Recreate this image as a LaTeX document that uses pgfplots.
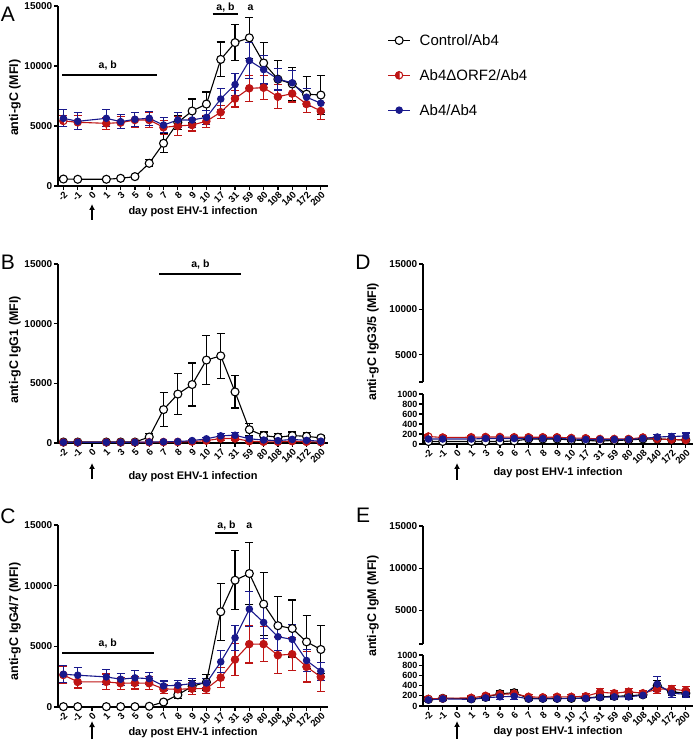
\documentclass[border=0pt]{standalone}
\usepackage{fontspec}
\setmainfont{Liberation Sans}
\usepackage{pgfplots}
\pgfplotsset{compat=1.18}
\usepackage{pgfplotstable}
\usetikzlibrary{arrows.meta}
\definecolor{cred}{RGB}{190,20,20}
\definecolor{cblue}{RGB}{25,25,140}

\pgfdeclareplotmark{lefthalf}{%
  \pgfpathcircle{\pgfpointorigin}{\pgfplotmarksize}%
  \pgfusepathqfillstroke
  \pgfpathmoveto{\pgfqpoint{0pt}{\pgfplotmarksize}}%
  \pgfpatharc{90}{270}{\pgfplotmarksize}%
  \pgfpathclose
  \pgfsetfillcolor{cred}%
  \pgfusepathqfillstroke
}

% ---------- data: x = category index (-2,-1,0,1,3,5,6,7,8,9,10,17,31,59,80,108,140,172,200 -> 0..18) ----------
\pgfplotstableread{
x y e
0 580 100
1 560 100
3 560 100
4 640 100
5 780 100
6 1890 300
7 3560 800
8 5300 600
9 6250 1000
10 6830 1000
11 10550 1450
12 11950 1500
13 12350 1700
14 10250 1700
15 8900 1550
16 8500 1400
17 7650 1500
18 7580 1600
}\Actrl
\pgfplotstableread{
x y e
0 5420 450
1 5310 600
3 5220 500
4 5280 500
5 5500 600
6 5500 600
7 4890 600
8 5000 800
9 5080 500
10 5400 500
11 6150 550
12 7280 700
13 8140 1100
14 8190 1000
15 7440 1000
16 7700 700
17 6830 700
18 6250 700
}\Ared
\pgfplotstableread{
x y e
0 5640 700
1 5390 700
3 5640 700
4 5360 600
5 5560 600
6 5640 600
7 5080 600
8 5500 600
9 5500 600
10 5720 600
11 7250 850
12 8450 900
13 10450 1500
14 9700 1200
15 8900 900
16 8600 1000
17 7400 750
18 6900 800
}\Ablue
\pgfplotstableread{
x y e
0 80 30
1 80 30
3 80 30
4 80 30
5 80 30
6 500 300
7 2800 1450
8 4100 1700
9 4900 1800
10 6950 2050
11 7300 1900
12 4280 1350
13 1120 500
14 620 300
15 480 300
16 620 300
17 560 300
18 430 200
}\Bctrl
\pgfplotstableread{
x y e
0 60 30
1 60 30
3 60 30
4 60 30
5 60 30
6 70 30
7 80 40
8 90 40
9 120 50
10 200 100
11 380 150
12 380 150
13 150 80
14 100 50
15 100 50
16 150 60
17 100 50
18 80 40
}\Bred
\pgfplotstableread{
x y e
0 60 30
1 60 30
3 60 30
4 60 30
5 60 30
6 80 30
7 100 40
8 120 40
9 200 60
10 350 100
11 600 200
12 650 200
13 350 150
14 250 100
15 200 100
16 300 100
17 220 100
18 150 80
}\Bblue
\pgfplotstableread{
x y e
0 30 20
1 30 20
3 30 20
4 30 20
5 30 20
6 60 20
7 410 100
8 1000 300
9 1700 450
10 2050 650
11 7850 2350
12 10450 2450
13 11000 2550
14 8480 2600
15 6700 2400
16 6470 2350
17 5370 2200
18 4740 2000
}\Cctrl
\pgfplotstableread{
x y e
0 2640 700
1 2070 500
3 2070 650
4 1960 500
5 1980 500
6 1960 550
7 1490 350
8 1460 350
9 1510 500
10 1510 400
11 2420 800
12 3910 1300
13 5180 1550
14 5180 1450
15 4270 1500
16 4350 1350
17 3310 1250
18 2480 1200
}\Cred
\pgfplotstableread{
x y e
0 2700 700
1 2620 650
3 2480 600
4 2290 500
5 2400 600
6 2340 500
7 1740 400
8 1790 400
9 1930 450
10 1980 400
11 3720 900
12 5700 1050
13 8070 1450
14 6970 1300
15 5790 1100
16 5570 1200
17 3830 900
18 2950 750
}\Cblue
\pgfplotstableread{
x y e
0 50 20
1 50 20
3 50 20
4 50 20
5 50 20
6 60 20
7 100 20
8 100 20
9 100 20
10 80 20
11 70 20
12 60 20
13 70 20
14 80 20
15 100 20
16 100 20
17 90 20
18 80 20
}\Dctrl
\pgfplotstableread{
x y e
0 150 30
1 130 30
3 135 25
4 140 25
5 140 25
6 135 25
7 135 25
8 135 25
9 135 25
10 120 25
11 115 25
12 100 25
13 100 25
14 100 25
15 130 25
16 100 30
17 90 30
18 80 30
}\Dred
\pgfplotstableread{
x y e
0 100 40
1 100 30
3 100 30
4 110 30
5 110 30
6 110 30
7 110 30
8 110 30
9 110 30
10 100 30
11 90 30
12 90 30
13 90 25
14 90 25
15 110 25
16 140 50
17 150 60
18 160 60
}\Dblue
\pgfplotstableread{
x y e
0 130 40
1 150 40
3 140 40
4 170 50
5 240 60
6 260 70
7 150 40
8 150 40
9 150 40
10 150 40
11 160 40
12 180 50
13 190 50
14 200 50
15 220 50
16 400 100
17 280 70
18 250 70
}\Ectrl
\pgfplotstableread{
x y e
0 140 50
1 150 50
3 160 40
4 200 50
5 230 60
6 240 60
7 180 40
8 170 40
9 180 40
10 180 40
11 190 50
12 270 80
13 250 60
14 280 70
15 250 60
16 330 80
17 330 80
18 300 80
}\Ered
\pgfplotstableread{
x y e
0 120 40
1 140 40
3 130 40
4 160 50
5 180 60
6 190 60
7 140 40
8 140 40
9 140 40
10 150 40
11 150 40
12 170 40
13 180 50
14 180 50
15 210 50
16 430 150
17 250 80
18 230 70
}\Eblue

\tikzset{
  ylabfont/.style={font=\bfseries\fontsize{12.5}{14}\selectfont, anchor=center},
  xlabfont/.style={font=\bfseries\fontsize{11}{12}\selectfont, anchor=center},
}
\pgfplotsset{
  base/.style={
    scale only axis, width=270pt,
    xmin=-0.38, xmax=18.5,
    axis y line*=left,
    axis line style={line width=1.3pt, black},
    tick align=outside, major tick length=4pt,
    tick style={line width=1.2pt, black},
    scaled y ticks=false,
    y tick label style={font=\bfseries\fontsize{10}{11}\selectfont, inner sep=1.5pt},
    /pgf/number format/set thousands separator={},
    /pgf/number format/assume math mode=true,
    clip=false,
  },
  withx/.style={
    axis x line*=bottom,
    xtick={0,...,18},
    xticklabels={-2,-1,0,1,3,5,6,7,8,9,10,17,31,59,80,108,140,172,200},
    x tick label style={rotate=45, anchor=north east, font=\bfseries\fontsize{9.5}{10}\selectfont, inner sep=0.5pt},
    xlabel={day post EHV-1 infection},
  },
  lowy/.style={
    ymin=0, ymax=1000, ytick={0,200,400,600,800,1000},
    y tick label style={font=\bfseries\fontsize{9}{9}\selectfont, inner sep=0.5pt, xshift=-1pt},
  },
  ctrl/.style={black, line width=1.1pt, mark=*, mark size=4pt,
    mark options={fill=white, solid, line width=1.1pt},
    error bars/.cd, y dir=both, y explicit,
    error bar style={line width=1.1pt}, error mark options={rotate=90, mark size=4pt, line width=1.1pt}},
  redp/.style={cred, line width=1.1pt, mark=lefthalf, mark size=3.6pt,
    mark options={fill=white, solid, line width=1.1pt},
    error bars/.cd, y dir=both, y explicit,
    error bar style={line width=1.1pt}, error mark options={rotate=90, mark size=4pt, line width=1.1pt}},
  bluep/.style={cblue, line width=1.1pt, mark=*, mark size=3.2pt,
    mark options={fill=cblue, solid},
    error bars/.cd, y dir=both, y explicit,
    error bar style={line width=1.1pt}, error mark options={rotate=90, mark size=4pt, line width=1.1pt}},
}
\newcommand{\sig}{\bfseries\fontsize{10.5}{12}\selectfont}
\newcommand{\arrowat}[2]{\draw[line width=1.4pt, -{Latex[length=6pt,width=6pt]}] ([yshift=-#2]axis cs:2,0) -- ([yshift=-#1]axis cs:2,0);}

\begin{document}
\begin{tikzpicture}[x=1pt,y=1pt]
\path[use as bounding box] (0,0) rectangle (696,742);

% panel letters
\node[font=\fontsize{21}{24}\selectfont] at (8,728) {A};
\node[font=\fontsize{21}{24}\selectfont] at (8,480) {B};
\node[font=\fontsize{21}{24}\selectfont] at (8,226) {C};
\node[font=\fontsize{21}{24}\selectfont] at (363,480) {D};
\node[font=\fontsize{21}{24}\selectfont] at (363,227) {E};

% ================= A =================
\begin{axis}[base, withx, at={(58pt,556pt)}, anchor=south west, height=180pt,
  ymin=0, ymax=15000, ytick={0,5000,10000,15000},
  ylabel={anti-gC (MFI)},
  ylabel style={ylabfont, at={([xshift=-43pt]axis description cs:0,0.49)}},
  xlabel style={xlabfont, at={([yshift=-26pt]axis description cs:0.5,0)}},
  legend style={at={(axis description cs:1.22,0.84)}, anchor=north west, draw=none, fill=none,
    font=\fontsize{15}{18}\selectfont, row sep=24pt, column sep=9pt, inner sep=0pt,
    nodes={inner sep=0pt, text depth=0pt}},
  legend cell align=left,
  legend image code/.code={\draw[mark repeat=2, mark phase=2] plot coordinates {(0pt,0pt) (11pt,0pt) (22pt,0pt)};},
]
\addplot[ctrl] table[x=x, y=y, y error=e] {\Actrl};
\addlegendentry{Control/Ab4}
\addplot[redp] table[x=x, y=y, y error=e] {\Ared};
\addlegendentry{Ab4ΔORF2/Ab4}
\addplot[bluep] table[x=x, y=y, y error=e] {\Ablue};
\addlegendentry{Ab4/Ab4}
\draw[line width=1.5pt] (axis cs:-0.07,9250) -- (axis cs:6.57,9250);
\node[font=\sig] at (axis cs:3.1,10080) {a, b};
\draw[line width=1.5pt] (axis cs:10.44,14330) -- (axis cs:12.2,14330);
\node[font=\sig] at (axis cs:11.33,14850) {a, b};
\node[font=\sig] at (axis cs:13.08,14850) {a};
\arrowat{18pt}{34pt}
\end{axis}

% ================= B =================
\begin{axis}[base, withx, at={(58pt,299pt)}, anchor=south west, height=179pt,
  ymin=0, ymax=15000, ytick={0,5000,10000,15000},
  ylabel={anti-gC IgG1 (MFI)},
  ylabel style={ylabfont, at={([xshift=-43pt]axis description cs:0,0.52)}},
  xlabel style={xlabfont, at={([yshift=-34pt]axis description cs:0.5,0)}},
]
\addplot[ctrl] table[x=x, y=y, y error=e] {\Bctrl};
\addplot[redp] table[x=x, y=y, y error=e] {\Bred};
\addplot[bluep] table[x=x, y=y, y error=e] {\Bblue};
\draw[line width=1.5pt] (axis cs:6.7,14160) -- (axis cs:12.45,14160);
\node[font=\sig] at (axis cs:9.58,14950) {a, b};
\arrowat{20pt}{36pt}
\end{axis}

% ================= C =================
\begin{axis}[base, withx, at={(58pt,35pt)}, anchor=south west, height=182pt,
  ymin=0, ymax=15000, ytick={0,5000,10000,15000},
  ylabel={anti-gC IgG4/7 (MFI)},
  ylabel style={ylabfont, at={([xshift=-43pt]axis description cs:0,0.47)}},
  xlabel style={xlabfont, at={([yshift=-26pt]axis description cs:0.5,0)}},
]
\addplot[ctrl] table[x=x, y=y, y error=e] {\Cctrl};
\addplot[redp] table[x=x, y=y, y error=e] {\Cred};
\addplot[bluep] table[x=x, y=y, y error=e] {\Cblue};
\draw[line width=1.5pt] (axis cs:-0.07,4450) -- (axis cs:6.3,4450);
\node[font=\sig] at (axis cs:3.1,5270) {a, b};
\draw[line width=1.5pt] (axis cs:10.6,14320) -- (axis cs:12.2,14320);
\node[font=\sig] at (axis cs:11.4,14950) {a, b};
\node[font=\sig] at (axis cs:13.0,14950) {a};
\arrowat{14pt}{32pt}
\end{axis}

% ================= D (broken axis) =================
\begin{axis}[base, at={(423pt,360pt)}, anchor=south west, height=118pt,
  axis x line=none,
  ymin=2000, ymax=15000, ytick={5000,10000,15000},
  extra y ticks={2000}, extra y tick labels={},
  ylabel={anti-gC IgG3/5 (MFI)},
  ylabel style={ylabfont, at={([xshift=-50pt]axis description cs:0,0.34)}},
]
\end{axis}
\begin{axis}[base, withx, lowy, at={(423pt,298pt)}, anchor=south west, height=50pt,
  xlabel style={xlabfont, at={([yshift=-29pt]axis description cs:0.5,0)}},
]
\addplot[ctrl] table[x=x, y=y, y error=e] {\Dctrl};
\addplot[redp] table[x=x, y=y, y error=e] {\Dred};
\addplot[bluep] table[x=x, y=y, y error=e] {\Dblue};
\arrowat{19pt}{36pt}
\end{axis}

% ================= E (broken axis) =================
\begin{axis}[base, at={(423pt,98pt)}, anchor=south west, height=118pt,
  axis x line=none,
  ymin=1000, ymax=15000, ytick={5000,10000,15000},
  extra y ticks={1000}, extra y tick labels={},
  ylabel={anti-gC IgM (MFI)},
  ylabel style={ylabfont, at={([xshift=-50pt]axis description cs:0,0.32)}},
]
\end{axis}
\begin{axis}[base, withx, lowy, at={(423pt,36pt)}, anchor=south west, height=51pt,
  xlabel style={xlabfont, at={([yshift=-26pt]axis description cs:0.5,0)}},
]
\addplot[ctrl] table[x=x, y=y, y error=e] {\Ectrl};
\addplot[redp] table[x=x, y=y, y error=e] {\Ered};
\addplot[bluep] table[x=x, y=y, y error=e] {\Eblue};
\arrowat{15pt}{33pt}
\end{axis}
\end{tikzpicture}
\end{document}
